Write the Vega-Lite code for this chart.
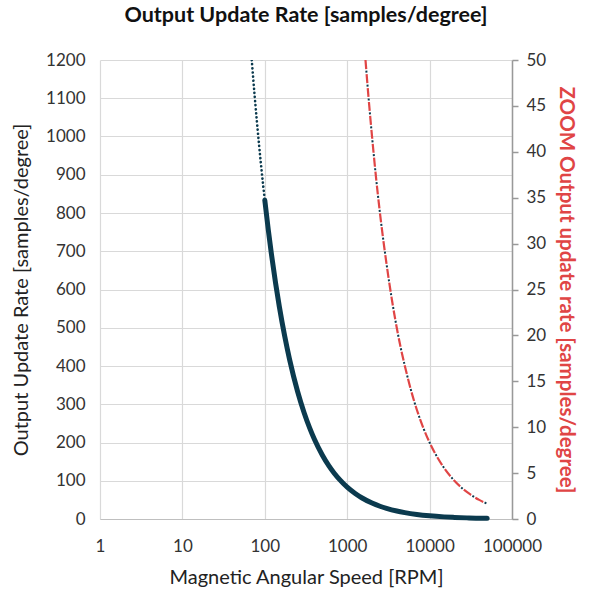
{
  "$schema": "https://vega.github.io/schema/vega-lite/v6.json",
  "width": 412,
  "height": 459,
  "autosize": {"type": "none"},
  "padding": {"left": 100, "top": 60, "right": 78, "bottom": 73},
  "background": "white",
  "config": {
    "font": "Lato",
    "view": {"stroke": null},
    "axis": {"labelFont": "Lato", "titleFont": "Lato", "labelFontSize": 17, "titleFontSize": 20, "labelColor": "#333333", "titleColor": "#222222", "titleFontWeight": "normal", "gridColor": "#d9d9d9", "gridWidth": 1.2}
  },
  "title": {"text": "Output Update Rate [samples/degree]", "fontSize": 21.5, "fontWeight": "bold", "font": "Lato", "color": "#111111", "anchor": "middle", "offset": 25},
  "datasets": {
    "dotted": [
      {"rpm": 69.44, "rate": 1200}, {"rpm": 75, "rate": 1111.1}, {"rpm": 80, "rate": 1041.7}, {"rpm": 90, "rate": 925.9},
      {"rpm": 100, "rate": 833.3}, {"rpm": 120, "rate": 694.4}, {"rpm": 150, "rate": 555.6}, {"rpm": 200, "rate": 416.7},
      {"rpm": 250, "rate": 333.3}, {"rpm": 300, "rate": 277.8}, {"rpm": 400, "rate": 208.3}, {"rpm": 500, "rate": 166.7},
      {"rpm": 600, "rate": 138.9}, {"rpm": 800, "rate": 104.2}, {"rpm": 1000, "rate": 83.3}, {"rpm": 1500, "rate": 55.6},
      {"rpm": 2000, "rate": 41.7}, {"rpm": 3000, "rate": 27.8}, {"rpm": 5000, "rate": 16.7}, {"rpm": 10000, "rate": 8.33},
      {"rpm": 20000, "rate": 4.17}, {"rpm": 50000, "rate": 1.67}
    ],
    "main": [
      {"rpm": 100, "rate": 833.3}, {"rpm": 110, "rate": 757.6}, {"rpm": 120, "rate": 694.4}, {"rpm": 135, "rate": 617.3}, {"rpm": 150, "rate": 555.6},
      {"rpm": 175, "rate": 476.2}, {"rpm": 200, "rate": 416.7}, {"rpm": 250, "rate": 333.3}, {"rpm": 300, "rate": 277.8},
      {"rpm": 350, "rate": 238.1}, {"rpm": 400, "rate": 208.3}, {"rpm": 500, "rate": 166.7}, {"rpm": 600, "rate": 138.9},
      {"rpm": 700, "rate": 119.0}, {"rpm": 800, "rate": 104.2}, {"rpm": 1000, "rate": 83.3}, {"rpm": 1250, "rate": 66.7},
      {"rpm": 1500, "rate": 55.6}, {"rpm": 2000, "rate": 41.7}, {"rpm": 2500, "rate": 33.3}, {"rpm": 3000, "rate": 27.8},
      {"rpm": 4000, "rate": 20.8}, {"rpm": 5000, "rate": 16.7}, {"rpm": 7000, "rate": 11.9}, {"rpm": 10000, "rate": 8.33},
      {"rpm": 15000, "rate": 5.56}, {"rpm": 20000, "rate": 4.17}, {"rpm": 30000, "rate": 2.78}, {"rpm": 40000, "rate": 2.08},
      {"rpm": 50000, "rate": 1.67}
    ],
    "zoom": [
      {"rpm": 1667, "rate": 50}, {"rpm": 1800, "rate": 46.3}, {"rpm": 2000, "rate": 41.7}, {"rpm": 2250, "rate": 37.0},
      {"rpm": 2500, "rate": 33.3}, {"rpm": 2750, "rate": 30.3}, {"rpm": 3000, "rate": 27.8}, {"rpm": 3500, "rate": 23.8},
      {"rpm": 4000, "rate": 20.8}, {"rpm": 4500, "rate": 18.5}, {"rpm": 5000, "rate": 16.7}, {"rpm": 6000, "rate": 13.9},
      {"rpm": 7000, "rate": 11.9}, {"rpm": 8500, "rate": 9.8}, {"rpm": 10000, "rate": 8.33}, {"rpm": 12500, "rate": 6.67},
      {"rpm": 15000, "rate": 5.56}, {"rpm": 20000, "rate": 4.17}, {"rpm": 25000, "rate": 3.33}, {"rpm": 30000, "rate": 2.78},
      {"rpm": 40000, "rate": 2.08}, {"rpm": 50000, "rate": 1.67}
    ]
  },
  "layer": [
    {
      "encoding": {
        "x": {"field": "rpm", "type": "quantitative", "scale": {"type": "log", "domain": [1, 100000]},
          "axis": {"title": "Magnetic Angular Speed [RPM]", "values": [1, 10, 100, 1000, 10000, 100000], "format": "d", "labelFlush": false, "labelOverlap": false, "domainColor": "#bfbfbf", "domainWidth": 1.2, "ticks": false, "labelPadding": 19, "titlePadding": 13}},
        "y": {"field": "rate", "type": "quantitative", "scale": {"domain": [0, 1200]},
          "axis": {"title": "Output Update Rate [samples/degree]", "values": [0, 100, 200, 300, 400, 500, 600, 700, 800, 900, 1000, 1100, 1200], "format": "d", "labelOverlap": false, "domain": false, "ticks": false, "labelPadding": 15, "titlePadding": 14}}
      },
      "layer": [
        {
          "data": {"name": "dotted"},
          "mark": {"type": "line", "color": "#0b3a4e", "strokeWidth": 2.6, "strokeDash": [0.1, 4], "strokeCap": "round", "interpolate": "monotone", "clip": true}
        },
        {
          "data": {"name": "main"},
          "mark": {"type": "line", "color": "#0b3a4e", "strokeWidth": 5, "strokeCap": "round", "interpolate": "monotone"}
        }
      ]
    },
    {
      "encoding": {
        "x": {"field": "rpm", "type": "quantitative"},
        "y": {"field": "rate", "type": "quantitative", "scale": {"domain": [0, 50]},
          "axis": {"orient": "right", "title": "ZOOM Output update rate  [samples/degree]", "titleColor": "#e04545", "titleFontWeight": "bold", "titleFontSize": 20.5, "values": [0, 5, 10, 15, 20, 25, 30, 35, 40, 45, 50], "labelOverlap": false, "grid": false, "domainColor": "#999999", "domainWidth": 1.5, "tickColor": "#999999", "tickSize": 6, "tickWidth": 1.5, "labelPadding": 8, "titlePadding": 10}}
      },
      "layer": [
        {
          "data": {"name": "zoom"},
          "mark": {"type": "line", "color": "#e04545", "strokeWidth": 2.2, "strokeDash": [9, 5], "interpolate": "monotone", "clip": true}
        },
        {
          "data": {"name": "zoom"},
          "mark": {"type": "line", "color": "#0b3a4e", "strokeWidth": 2, "strokeDash": [2, 12], "strokeDashOffset": -10.5, "interpolate": "monotone", "clip": true}
        }
      ]
    }
  ],
  "resolve": {"scale": {"y": "independent"}}
}
